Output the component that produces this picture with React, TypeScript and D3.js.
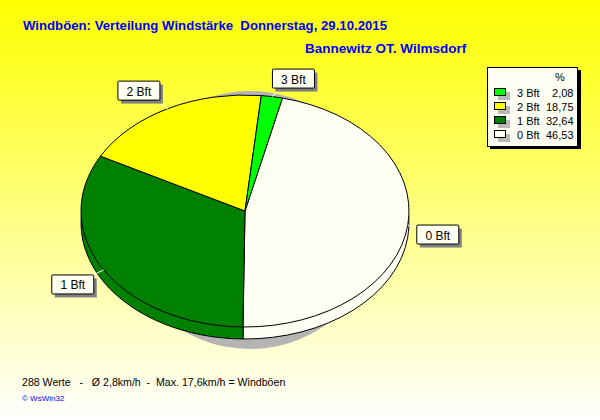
import React from 'react';
import * as d3 from 'd3';

const categories = ['0 Bft', '1 Bft', '2 Bft', '3 Bft'];
const percents = [46.53, 32.64, 18.75, 2.08];
const percentLabels = ['46,53', '32,64', '18,75', '2,08'];
const sliceColors = ['#fffff4', '#008000', '#ffff00', '#00ff00'];
const legendOrder = [3, 2, 1, 0];

// where the label box sits relative to the slice's rim point
const labelDx = [30, -31, -29, 21.5];
const labelDy = [9.5, 14.5, -18, -18];

const width = 600;
const height = 420;
const cx = 245;
const cy = 211;
const rx = 164;
const ry = 116;
const depth = 12;
const fontName = '"Liberation Sans", Arial, sans-serif';

const startDeg = 13.2;
const pie = d3.pie<number>()
  .sort(null)
  .startAngle((startDeg * Math.PI) / 180)
  .endAngle(((startDeg + 360) * Math.PI) / 180);
const arcs = pie(percents);
const arc = d3.arc<d3.PieArcDatum<number>>().innerRadius(0).outerRadius(rx);
const shadowArc = d3.arc<unknown>().innerRadius(0).outerRadius(130).startAngle(0).endAngle(2 * Math.PI);

const legendY = d3.scalePoint<number>().domain(legendOrder).range([93, 135]);

const rimPoint = (a: d3.PieArcDatum<number>) => {
  const mid = (a.startAngle + a.endAngle) / 2;
  return [cx + rx * Math.sin(mid), cy - ry * Math.cos(mid)];
};

const Pie = ({ dy }: { dy: number }) => (
  <g transform={`translate(${cx},${cy + dy}) scale(1,${ry / rx})`}>
    {arcs.map((a, i) => (
      <path
        key={i}
        d={arc(a) || ''}
        fill={sliceColors[i]}
        stroke="#000"
        strokeWidth={1}
        vectorEffect="non-scaling-stroke"
      />
    ))}
  </g>
);

export default function App() {
  return (
    <svg
      width={width}
      height={height}
      style={{ position: 'absolute', left: 0, top: 0, display: 'block' }}
      fontFamily={fontName}
    >
      <defs>
        <linearGradient id="hintergrund" x1="0" y1="0" x2="0" y2="1">
          <stop offset="0" stopColor="#ffff00" />
          <stop offset="1" stopColor="#ffffff" />
        </linearGradient>
      </defs>
      <rect width={width} height={height} fill="url(#hintergrund)" />

      <text x={23} y={30} fontSize={13.2} fontWeight="bold" fill="#0000ff" xmlSpace="preserve">
        Windböen: Verteilung Windstärke  Donnerstag, 29.10.2015
      </text>
      <text x={305} y={53} fontSize={13.5} fontWeight="bold" fill="#0000ff">
        Bannewitz OT. Wilmsdorf
      </text>

      <g transform={`translate(250,220) scale(1,${129 / 130})`}>
        <path d={shadowArc(null) || ''} fill="#b4b4b4" />
      </g>
      <Pie dy={depth} />
      <Pie dy={0} />

      {arcs.map((a, i) => {
        const [px, py] = rimPoint(a);
        const bx = px + labelDx[i];
        const by = py + labelDy[i];
        return (
          <g key={categories[i]}>
            <line x1={px} y1={py} x2={bx} y2={by} stroke="#ffffff" />
            <rect x={bx - 18} y={by - 6} width={42} height={19} fill="#808080" />
            <rect x={bx - 21} y={by - 9.5} width={42} height={19} rx={1} fill="#fffff0" stroke="#000" />
            <text x={bx} y={by + 5} fontSize={12} textAnchor="middle" fill="#000">
              {categories[i]}
            </text>
          </g>
        );
      })}

      <rect x={490} y={70} width={91} height={79} fill="#000" />
      <rect x={487.5} y={67.5} width={90} height={79} fill="#fffff4" stroke="#000" />
      <text x={560} y={81} fontSize={11} textAnchor="middle" fill="#000">%</text>
      {legendOrder.map((k) => {
        const y = legendY(k) as number;
        return (
          <g key={categories[k]}>
            <rect x={498} y={y - 1} width={12} height={8} fill="#b9b9b9" />
            <rect x={494.5} y={y - 4.5} width={11} height={7} fill={sliceColors[k]} stroke="#000" />
            <text x={517} y={y + 4} fontSize={11} fill="#000">{categories[k]}</text>
            <text x={573.5} y={y + 4} fontSize={11} textAnchor="end" fill="#000">{percentLabels[k]}</text>
          </g>
        );
      })}

      <text x={22} y={386} fontSize={10.6} fill="#000" xmlSpace="preserve">
        288 Werte   -   Ø 2,8km/h  -  Max. 17,6km/h = Windböen
      </text>
      <text x={22} y={401} fontSize={8} fill="#0000ff">© WsWin32</text>
    </svg>
  );
}
